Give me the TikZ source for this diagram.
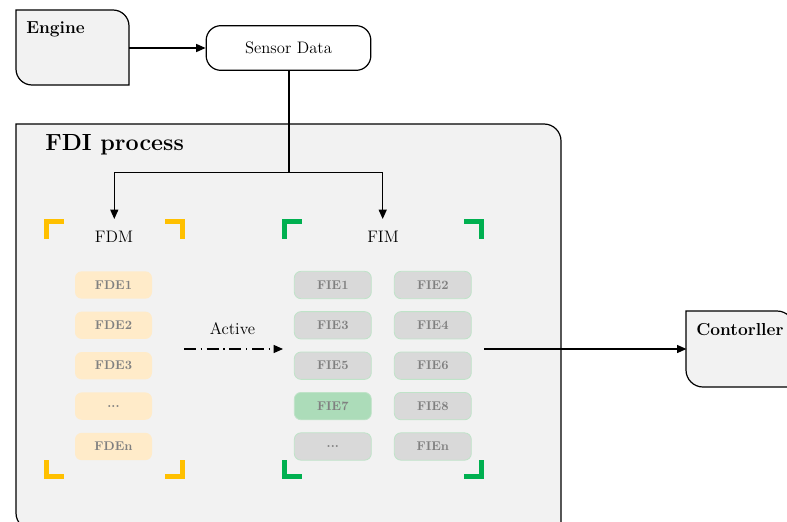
\documentclass[tikz,border=0pt]{standalone}
\usetikzlibrary{arrows.meta}
\definecolor{boxgray}{HTML}{F2F2F2}
\definecolor{fdmorange}{HTML}{FFC000}
\definecolor{fimgreen}{HTML}{00B050}
\definecolor{fdefill}{HTML}{FFEBC9}
\definecolor{fiefill}{HTML}{D9D9D9}
\definecolor{fieborder}{HTML}{BFE3C8}
\definecolor{fie7fill}{HTML}{ACDCB9}
\definecolor{elemtext}{HTML}{808080}
\tikzset{
  outline/.style={draw=black, line width=0.9pt, fill=boxgray},
  conn/.style={draw=black, line width=0.9pt, -{Triangle[length=7pt,width=6pt]}},
  plainline/.style={draw=black, line width=0.9pt},
  boxtitle/.style={font=\fontsize{13}{15}\selectfont\bfseries, anchor=west, inner sep=0pt},
  elem/.style={rounded corners=5pt, minimum width=57.75pt, minimum height=20.5pt, inner sep=0pt,
    font=\fontsize{9.5}{11}\selectfont\bfseries, text=elemtext},
  fde/.style={elem, fill=fdefill},
  fie/.style={elem, fill=fiefill, draw=fieborder, line width=0.6pt},
  fdmbr/.style={draw=fdmorange, line width=3.75pt, line cap=butt, line join=miter},
  fimbr/.style={draw=fimgreen, line width=3.75pt, line cap=butt, line join=miter},
  lbl/.style={font=\fontsize{12.5}{14}\selectfont, inner sep=0pt},
}
\begin{document}
\begin{tikzpicture}[x=0.75pt, y=-0.75pt]
\useasboundingbox (0,0) rectangle (787,521);
\clip (0,0) rectangle (787,521);

% Engine box
\draw[outline] (16,10) -- (113,10) arc[start angle=270, end angle=360, radius=16]
  -- (129,85) -- (32,85) arc[start angle=90, end angle=180, radius=16] -- cycle;
\node[inner sep=0pt, minimum width=84.75pt, minimum height=56.25pt] (engine) at (72.5,48) {};
\node[boxtitle] (enginet) at (26,29) {Engine};

% Sensor Data
\node[draw=black, line width=0.9pt, fill=white, rounded corners=11pt,
  minimum width=123.5pt, minimum height=33.5pt, inner sep=0pt, lbl] (sensor) at (288.5,48) {Sensor Data};

% FDI process box
\draw[outline] (16,124) -- (544,124) arc[start angle=270, end angle=360, radius=17]
  -- (561,530) -- (33,530) arc[start angle=90, end angle=180, radius=17] -- cycle;
\node[font=\fontsize{17.5}{20}\selectfont\bfseries, anchor=west, inner sep=0pt] (fdititle) at (45,145) {FDI process};

% Controller box
\draw[outline] (686,311) -- (777,311) arc[start angle=270, end angle=360, radius=17]
  -- (794,387) -- (703,387) arc[start angle=90, end angle=180, radius=17] -- cycle;
\node[inner sep=0pt, minimum width=80pt, minimum height=57pt] (ctrl) at (740,349) {};
\node[boxtitle] (ctrlt) at (696,330) {Contorller};

% arrows top
\draw[conn] (engine.east) -- (sensor.west);
\coordinate (split) at (289,172.7);
\coordinate (fdmtop) at (114.3,219);
\coordinate (fimtop) at (382.7,219);
\draw[plainline] (sensor.south -| split) -- (split);
\draw[conn] (split) -| (fdmtop);
\draw[conn] (split) -| (fimtop);

% FDM brackets
\draw[fdmbr] (63.5,221.5) -- (46.5,221.5) -- (46.5,238.5);
\draw[fdmbr] (165,221.5) -- (182.5,221.5) -- (182.5,238.5);
\draw[fdmbr] (46.5,460) -- (46.5,476.5) -- (63.5,476.5);
\draw[fdmbr] (182.5,460) -- (182.5,476.5) -- (165,476.5);
\node[lbl] (fdm) at (114,237) {FDM};

% FIM brackets
\draw[fimbr] (301.5,221.5) -- (284,221.5) -- (284,238.5);
\draw[fimbr] (464,221.5) -- (481.5,221.5) -- (481.5,238.5);
\draw[fimbr] (284,460) -- (284,476.5) -- (301.5,476.5);
\draw[fimbr] (481.5,460) -- (481.5,476.5) -- (464,476.5);
\node[lbl] (fim) at (383,237) {FIM};

% FDE column
\node[fde] (fde1) at (113.5,285) {FDE1};
\node[fde] (fde2) at (113.5,325.3) {FDE2};
\node[fde] (fde3) at (113.5,365.7) {FDE3};
\node[fde] (fded) at (113.5,406.1) {...};
\node[fde] (fden) at (113.5,446.5) {FDEn};

% FIE columns
\node[fie] (fie1) at (332.8,285) {FIE1};
\node[fie] (fie2) at (432.8,285) {FIE2};
\node[fie] (fie3) at (332.8,325.3) {FIE3};
\node[fie] (fie4) at (432.8,325.3) {FIE4};
\node[fie] (fie5) at (332.8,365.7) {FIE5};
\node[fie] (fie6) at (432.8,365.7) {FIE6};
\node[fie, fill=fie7fill] (fie7) at (332.8,406.1) {FIE7};
\node[fie] (fie8) at (432.8,406.1) {FIE8};
\node[fie] (fied) at (332.8,446.5) {...};
\node[fie] (fien) at (432.8,446.5) {FIEn};

% Active arrow
\coordinate (actfrom) at (184,349);
\coordinate (actto) at (283,349);
\draw[conn, dash pattern=on 9pt off 3.5pt on 1pt off 3.5pt] (actfrom) -- (actto);
\node[lbl] (active) at (232.5,329) {Active};

% to controller
\coordinate (fimout) at (484,349);
\draw[conn] (fimout) -- (ctrl.west);
\end{tikzpicture}
\end{document}
